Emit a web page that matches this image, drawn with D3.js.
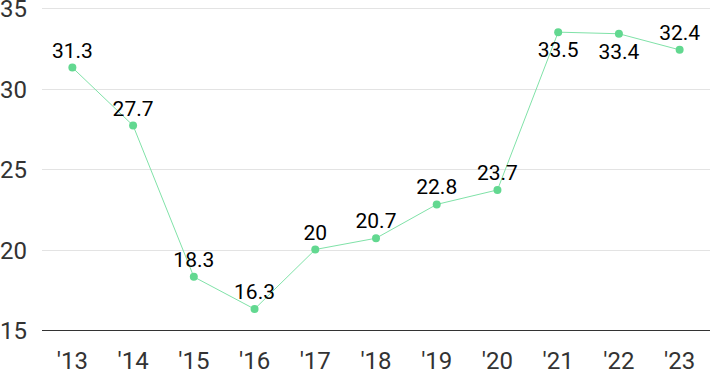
<!DOCTYPE html>
<html>
<head>
  <meta charset="utf-8">
  <script src="https://d3js.org/d3.v7.min.js"></script>
  <style>
    body { margin: 0; background: #fff; }
    svg { display: block; }
  </style>
</head>
<body>
<script>
  // chart data
  var years = ["'13", "'14", "'15", "'16", "'17", "'18", "'19", "'20", "'21", "'22", "'23"];
  var values = [31.3, 27.7, 18.3, 16.3, 20, 20.7, 22.8, 23.7, 33.5, 33.4, 32.4];
  var yTicks = [15, 20, 25, 30, 35];
  // labels that sit under their point instead of above
  var labelBelow = ["'21", "'22"];

  var width = 710, height = 371;
  var plotLeft = 42, plotRight = 710, plotTop = 8, plotBottom = 330;

  var svg = d3.select("body").append("svg")
      .attr("width", width)
      .attr("height", height);

  var x = d3.scaleBand().domain(years).range([plotLeft, plotRight]);
  var y = d3.scaleLinear().domain([15, 35]).range([plotBottom, plotTop]);

  /*
    gridlines + y labels
  */
  svg.selectAll(".grid")
    .data(yTicks)
    .enter()
    .append("line")
      .attr("x1", plotLeft)
      .attr("x2", plotRight)
      .attr("y1", function (d) { return Math.round(y(d)) + 0.5; })
      .attr("y2", function (d) { return Math.round(y(d)) + 0.5; })
      .style("stroke", function (d) { return d === 15 ? "#333" : "#e3e3e3"; })
      .style("stroke-width", 1);

  svg.selectAll(".ylab")
    .data(yTicks)
    .enter()
    .append("text")
      .attr("x", 27)
      .attr("y", function (d) { return y(d) + 9; })
      .attr("text-anchor", "end")
      .style("font-family", "Roboto, sans-serif")
      .style("font-size", "24px")
      .style("fill", "#333")
      .text(function (d) { return d; });

  /*
    x labels
  */
  svg.selectAll(".xlab")
    .data(years)
    .enter()
    .append("text")
      .attr("x", function (d) { return x(d) + x.bandwidth() / 2; })
      .attr("y", 369)
      .attr("text-anchor", "middle")
      .style("font-family", "Roboto, sans-serif")
      .style("font-size", "24px")
      .style("fill", "#333")
      .text(function (d) { return d; });

  /*
    line + points
  */
  var pts = years.map(function (d, i) { return { year: d, value: values[i] }; });
  var cx = function (d) { return x(d.year) + x.bandwidth() / 2; };

  svg.append("path")
    .datum(pts)
    .attr("d", d3.line().x(cx).y(function (d) { return y(d.value); }))
    .style("fill", "none")
    .style("stroke", "#80e2a8")
    .style("stroke-width", 1);

  svg.selectAll(".pt")
    .data(pts)
    .enter()
    .append("circle")
      .attr("cx", cx)
      .attr("cy", function (d) { return y(d.value); })
      .attr("r", 4)
      .style("fill", "#62d890");

  svg.selectAll(".vlab")
    .data(pts)
    .enter()
    .append("text")
      .attr("x", cx)
      .attr("y", function (d) {
        return labelBelow.indexOf(d.year) >= 0 ? y(d.value) + 25 : y(d.value) - 10;
      })
      .attr("text-anchor", "middle")
      .style("font-family", "Roboto, sans-serif")
      .style("font-size", "21px")
      .style("fill", "#000")
      .text(function (d) { return d.value; });
</script>
</body>
</html>
